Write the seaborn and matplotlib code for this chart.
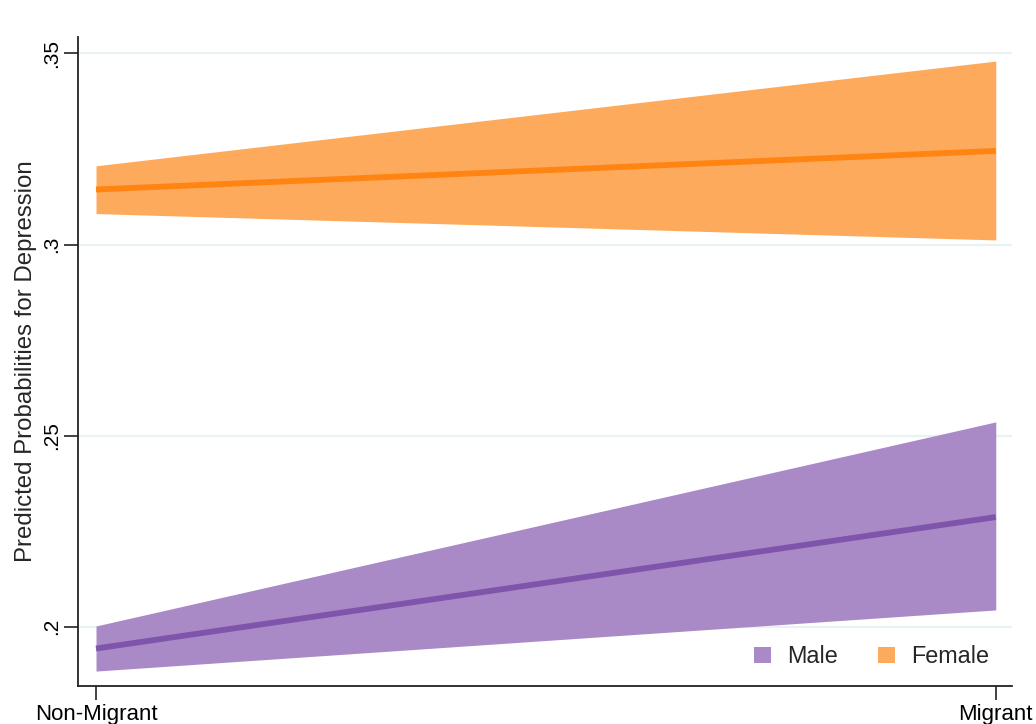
import matplotlib
matplotlib.use("Agg")
import matplotlib.pyplot as plt
from matplotlib.patches import Patch
import seaborn as sns
import pandas as pd

# Predicted probabilities with 95% confidence bounds
groups = ["Non-Migrant", "Migrant"]
male_pred = [0.1943, 0.2287]
male_lo = [0.1884, 0.2044]
male_hi = [0.2002, 0.2536]
female_pred = [0.3144, 0.3245]
female_lo = [0.3081, 0.3012]
female_hi = [0.3206, 0.3480]
y_ticks = [0.20, 0.25, 0.30, 0.35]
y_ticklabels = [".2", ".25", ".3", ".35"]

sns.set_theme(style="white")
plt.rcParams["font.family"] = ["Liberation Sans", "DejaVu Sans"]

fig = plt.figure(figsize=(10.36, 7.24), dpi=100)
ax = fig.add_axes([0.0753, 0.0525, 0.9015, 0.8964])

x = list(range(len(groups)))
df = pd.DataFrame({
    "x": x * 2,
    "pred": male_pred + female_pred,
    "sex": ["Male"] * 2 + ["Female"] * 2,
})

fill_cols = {"Male": "#A98AC6", "Female": "#FDAA5C"}
line_cols = {"Male": "#7F55AC", "Female": "#FF8412"}

ax.fill_between(x, male_lo, male_hi, color=fill_cols["Male"], lw=0, zorder=2)
ax.fill_between(x, female_lo, female_hi, color=fill_cols["Female"], lw=0, zorder=2)
sns.lineplot(data=df, x="x", y="pred", hue="sex", palette=line_cols,
             linewidth=4.2, legend=False, ax=ax, zorder=3,
             solid_capstyle="butt")

ax.set_xlim(-0.02, 1.018)
ax.set_ylim(0.1845, 0.3543)
ax.set_xticks(x)
ax.set_xticklabels(groups)
ax.set_yticks(y_ticks)
ax.set_yticklabels(y_ticklabels, rotation=90, va="center")
ax.set_xlabel("")
ax.set_ylabel("Predicted Probabilities for Depression", fontsize=17.3, labelpad=3.8)

for yv in y_ticks:
    ax.axhline(yv, color="#EAF1F3", lw=1.6, zorder=1)

for side in ["top", "right"]:
    ax.spines[side].set_visible(False)
for side in ["left", "bottom"]:
    ax.spines[side].set_color("#222222")
    ax.spines[side].set_linewidth(1.3)

ax.tick_params(axis="both", which="major", direction="out", length=10, width=1.2,
               color="#222222", labelcolor="black", left=True, bottom=True)
ax.tick_params(axis="y", pad=2.4, labelsize=15)
ax.tick_params(axis="x", pad=3, labelsize=16)

handles = [Patch(facecolor=fill_cols["Male"], edgecolor="none", label="Male"),
           Patch(facecolor=fill_cols["Female"], edgecolor="none", label="Female")]
ax.legend(handles=handles, loc="lower right", ncol=2, frameon=False,
          fontsize=16.8, handlelength=0.7, handleheight=0.7, handletextpad=0.7,
          columnspacing=1.75, bbox_to_anchor=(0.998, -0.005))

fig.savefig("out.png", dpi=100, facecolor="white")
